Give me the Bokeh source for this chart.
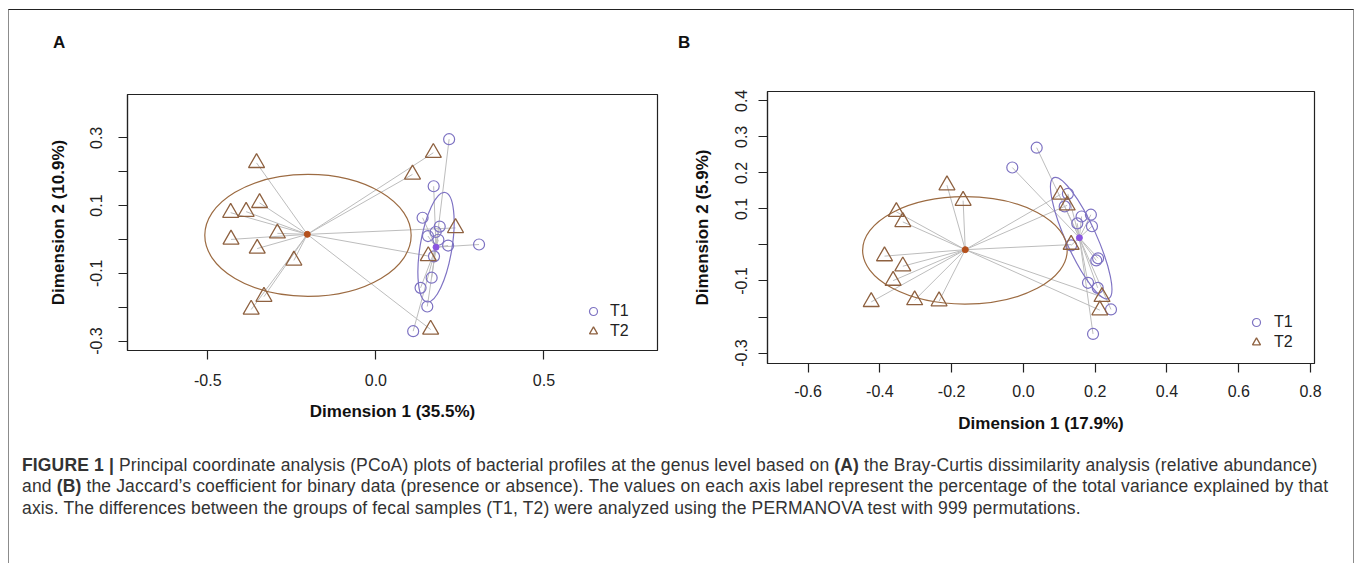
import numpy as np
from bokeh.plotting import figure
from bokeh.models import Range1d, FixedTicker, Legend, LegendItem, Div
from bokeh.layouts import row, column
from bokeh.embed import file_html
from bokeh.resources import INLINE

FONT = "Liberation Sans"

# ---------------- Panel A (Bray-Curtis) ----------------
a_t1_x = [0.218, 0.172, 0.139, 0.190, 0.155, 0.178, 0.186, 0.215, 0.307, 0.173, 0.166, 0.133, 0.153, 0.111]
a_t1_y = [0.296, 0.157, 0.064, 0.038, 0.010, 0.022, -0.001, -0.018, -0.015, -0.050, -0.113, -0.143, -0.198, -0.271]
a_t2_x = [-0.355, -0.346, -0.432, -0.386, -0.293, -0.431, -0.353, -0.244, -0.333, -0.371, 0.171, 0.109, 0.237, 0.156, 0.163]
a_t2_y = [0.226, 0.108, 0.079, 0.082, 0.018, 0.000, -0.027, -0.062, -0.169, -0.207, 0.256, 0.192, 0.034, -0.049, -0.266]
a_centroid_x = [0.179, -0.204]          # T1, T2
a_centroid_y = [-0.023, 0.015]
a_ell_x = [0.179, -0.202]
a_ell_y = [-0.023, 0.012]
a_ell_major = [0.165, 0.307]            # semi-axes
a_ell_minor = [0.047, 0.180]
a_ell_angle = [80.6, 0.0]               # degrees
a_xticks = [-0.5, 0.0, 0.5]
a_xtick_labels = ["-0.5", "0.0", "0.5"]
a_yticks = [-0.3, -0.2, -0.1, 0.0, 0.1, 0.2, 0.3]
a_ytick_labels = ["-0.3", "", "-0.1", "", "0.1", "", "0.3"]
a_xlabel = "Dimension 1 (35.5%)"
a_ylabel = "Dimension 2 (10.9%)"

# ---------------- Panel B (Jaccard) ----------------
b_t1_x = [0.037, -0.031, 0.124, 0.115, 0.162, 0.188, 0.150, 0.191, 0.133, 0.208, 0.203, 0.180, 0.207, 0.244, 0.194]
b_t1_y = [0.270, 0.215, 0.142, 0.107, 0.079, 0.084, 0.060, 0.052, -0.001, -0.037, -0.043, -0.105, -0.119, -0.179, -0.247]
b_t2_x = [-0.213, -0.168, -0.354, -0.336, -0.387, -0.336, -0.363, -0.424, -0.303, -0.235, 0.103, 0.122, 0.133, 0.219, 0.213]
b_t2_y = [0.166, 0.123, 0.092, 0.064, -0.031, -0.059, -0.099, -0.158, -0.153, -0.156, 0.140, 0.110, 0.001, -0.144, -0.181]
b_centroid_x = [0.156, -0.162]
b_centroid_y = [0.020, -0.013]
b_ell_x = [0.161, -0.163]
b_ell_y = [0.019, -0.015]
b_ell_major = [0.185, 0.285]
b_ell_minor = [0.042, 0.149]
b_ell_angle = [114.4, 0.0]
b_xticks = [-0.6, -0.4, -0.2, 0.0, 0.2, 0.4, 0.6, 0.8]
b_xtick_labels = ["-0.6", "-0.4", "-0.2", "0.0", "0.2", "0.4", "0.6", "0.8"]
b_yticks = [-0.3, -0.2, -0.1, 0.0, 0.1, 0.2, 0.3, 0.4]
b_ytick_labels = ["-0.3", "", "-0.1", "", "0.1", "0.2", "0.3", "0.4"]
b_xlabel = "Dimension 1 (17.9%)"
b_ylabel = "Dimension 2 (5.9%)"

groups = ["T1", "T2"]

T1_COL = "#7d72c2"
T2_COL = "#8e6140"
T1_ELL = "#7f73c4"
T2_ELL = "#9c6b42"
T1_CEN = "#8a55e0"
T2_CEN = "#b4501c"
SEG_COL = "#bdbdbd"


def make_panel(t1x, t1y, t2x, t2y, cx, cy, ex, ey, emaj, emin, eang,
               xt, xtl, yt, ytl, xlab, ylab, xr, yr, w, h, borders, stand,
               legend_loc, legend_standoff):
    bl, br, bt, bb = borders
    p = figure(width=w, height=h, x_range=Range1d(*xr), y_range=Range1d(*yr),
               output_backend="svg", toolbar_location=None, frame_align=False,
               min_border_left=bl, min_border_right=br, min_border_top=bt, min_border_bottom=bb)

    p.xgrid.visible = False
    p.ygrid.visible = False
    p.outline_line_color = "#222222"
    p.outline_line_width = 1.2
    p.background_fill_color = None
    p.border_fill_color = None

    # spokes from each sample to its group centroid
    p.segment(x0=t1x, y0=t1y, x1=[cx[0]] * len(t1x), y1=[cy[0]] * len(t1y),
              line_color=SEG_COL, line_width=1)
    p.segment(x0=t2x, y0=t2y, x1=[cx[1]] * len(t2x), y1=[cy[1]] * len(t2y),
              line_color=SEG_COL, line_width=1)

    # dispersion ellipses
    p.ellipse(x=ex, y=ey, width=[2 * m for m in emaj], height=[2 * m for m in emin],
              angle=list(np.deg2rad(eang)), fill_alpha=0,
              line_color=[T1_ELL, T2_ELL], line_width=1.2)

    r1 = p.scatter(t1x, t1y, marker="circle", size=11, fill_alpha=0,
                   line_color=T1_COL, line_width=1.2)
    r2 = p.scatter(t2x, t2y, marker="triangle", size=16, fill_alpha=0,
                   line_color=T2_COL, line_width=1.3)
    p.scatter(cx, cy, marker="circle", size=6, fill_color=[T1_CEN, T2_CEN],
              line_color=[T1_CEN, T2_CEN])

    leg = Legend(items=[LegendItem(label=groups[0], renderers=[r1]),
                        LegendItem(label=groups[1], renderers=[r2])],
                 location=legend_loc, padding=0, margin=0, spacing=0,
                 glyph_width=20, glyph_height=20, label_standoff=legend_standoff,
                 label_text_font=FONT, label_text_font_size="16px",
                 label_text_color="#222222", border_line_alpha=0,
                 background_fill_alpha=0)
    p.add_layout(leg)

    sx, sxl, sy, syl = stand
    for ax, ticks, labels, ls, als, lab in (
            (p.xaxis[0], xt, xtl, sx, sxl, xlab),
            (p.yaxis[0], yt, ytl, sy, syl, ylab)):
        ax.ticker = FixedTicker(ticks=ticks)
        ax.major_label_overrides = dict(zip(ticks, labels))
        ax.minor_tick_line_color = None
        ax.major_tick_in = 0
        ax.major_tick_out = 9
        ax.major_tick_line_color = "#222222"
        ax.major_tick_line_width = 1.2
        ax.axis_line_color = "#222222"
        ax.axis_line_width = 1.2
        ax.major_label_text_font = FONT
        ax.major_label_text_font_size = "16px"
        ax.major_label_text_color = "#222222"
        ax.major_label_standoff = ls
        ax.axis_label = lab
        ax.axis_label_text_font = FONT
        ax.axis_label_text_font_size = "17px"
        ax.axis_label_text_font_style = "bold"
        ax.axis_label_text_color = "#111111"
        ax.axis_label_standoff = als
    p.yaxis[0].major_label_orientation = "vertical"
    return p


pa = make_panel(a_t1_x, a_t1_y, a_t2_x, a_t2_y, a_centroid_x, a_centroid_y,
                a_ell_x, a_ell_y, a_ell_major, a_ell_minor, a_ell_angle,
                a_xticks, a_xtick_labels, a_yticks, a_ytick_labels, a_xlabel, a_ylabel,
                (-0.739, 0.838), (-0.328, 0.428), 668, 390, (127, 11, 34, 100),
                (14, 13, 16, 20), (456, 9), 7)

pb = make_panel(b_t1_x, b_t1_y, b_t2_x, b_t2_y, b_centroid_x, b_centroid_y,
                b_ell_x, b_ell_y, b_ell_major, b_ell_minor, b_ell_angle,
                b_xticks, b_xtick_labels, b_yticks, b_ytick_labels, b_xlabel, b_ylabel,
                (-0.713, 0.811), (-0.329, 0.426), 688, 390, (99, 42, 31, 87),
                (12, 14, 11, 21), (479, 11), 8)

LETTER_STYLE = ("font-family:'Liberation Sans',Arial,sans-serif;font-weight:bold;"
                "font-size:17px;line-height:20px;color:#111111;padding-top:33px;")
letter_a = Div(text='<div style="%spadding-left:53px;">A</div>' % LETTER_STYLE,
               width=668, height=60, margin=0)
letter_b = Div(text='<div style="%spadding-left:10px;">B</div>' % LETTER_STYLE,
               width=688, height=60, margin=0)

frame_html = ('<div style="position:fixed;left:8px;top:9px;width:1346px;height:640px;'
              'border-top:1px solid #222222;border-left:1px solid #8c8c8c;'
              'border-right:1px solid #8c8c8c;pointer-events:none;z-index:50;"></div>')

caption_html = (
    frame_html +
    '<div style="font-family:\'Liberation Sans\',Arial,sans-serif;font-size:17.5px;'
    'letter-spacing:0.15px;line-height:21.3px;color:#333333;padding:0 0 0 17px;'
    'white-space:nowrap;">'
    '<b>FIGURE 1 |</b> Principal coordinate analysis (PCoA) plots of bacterial profiles at the genus level '
    'based on <b>(A)</b> the Bray-Curtis dissimilarity analysis (relative abundance)<br>'
    'and <b>(B)</b> the Jaccard\u2019s coefficient for binary data (presence or absence). The values on each '
    'axis label represent the percentage of the total variance explained by that<br>'
    'axis. The differences between the groups of fecal samples (T1, T2) were analyzed using the '
    'PERMANOVA test with 999 permutations.</div>'
)
cap = Div(text=caption_html, width=1356, height=100)

layout = column(row(letter_a, letter_b), row(pa, pb), cap)

open("out.html", "w").write(file_html(layout, INLINE))
